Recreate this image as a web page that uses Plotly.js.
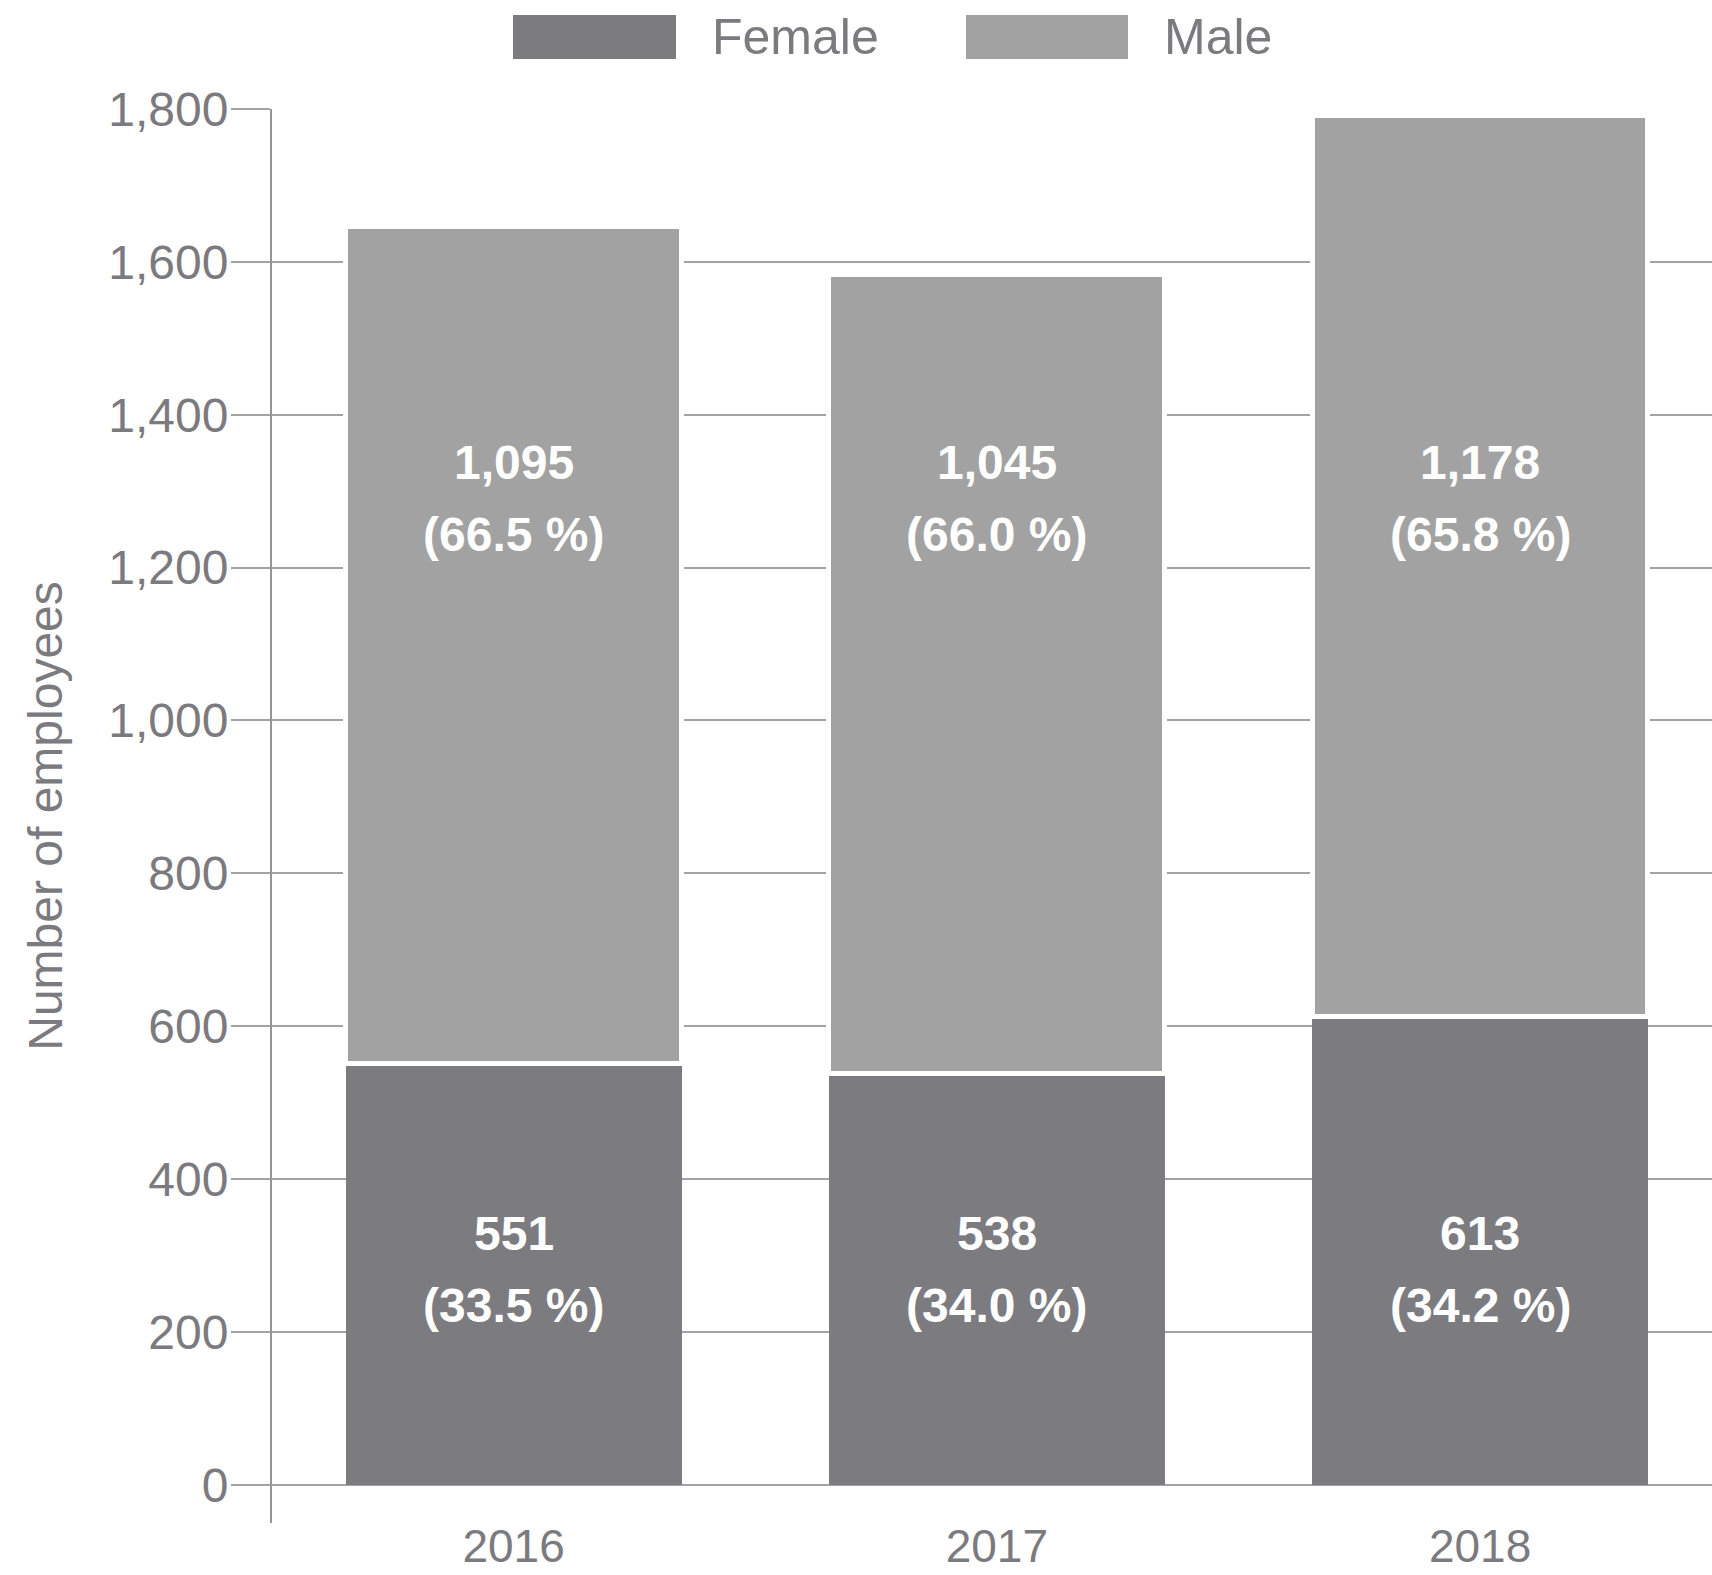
<!DOCTYPE html>
<html>
<head>
<meta charset="utf-8">
<script src="https://cdn.plot.ly/plotly-3.0.1.min.js"></script>
<style>html,body{margin:0;padding:0;background:#fff;}#chart{width:1712px;height:1575px;}</style>
</head>
<body>
<div id="chart"></div>
<script>
// ---- data ----
const years = ['2016', '2017', '2018'];
const female = [551, 538, 613];
const male = [1095, 1045, 1178];
const seriesNames = ['Female', 'Male'];
const yTickVals = [0, 200, 400, 600, 800, 1000, 1200, 1400, 1600, 1800];
const yTitle = 'Number of employees';

// ---- styles ----
const FONT = 'Liberation Sans, Arial, sans-serif';
const TXT = '#7b7a7f';
const FEMALE_C = '#7c7b80';
const MALE_C = '#a2a2a2';
const GRID_C = '#a3a3a3';

const W = 1712, H = 1575;
const M = {l: 272, r: 0, t: 109, b: 52};
const pw = W - M.l - M.r, ph = H - M.t - M.b;
const px2x = p => (p - M.l) / pw;
const py2y = p => (H - M.b - p) / ph;

const traces = [
  {type: 'bar', name: seriesNames[0], x: years, y: female,
   marker: {color: FEMALE_C, line: {width: 0}}, hoverinfo: 'skip'},
  {type: 'bar', name: seriesNames[1], x: years, y: male,
   marker: {color: MALE_C, line: {width: 5, color: '#ffffff'}}, hoverinfo: 'skip'}
];

const fmt = v => v.toLocaleString('en-US');
const pct = (a, b) => '(' + (a / (a + b) * 100).toFixed(1) + ' %)';

const annotations = [];
const lblFont = {family: FONT, size: 48, color: '#ffffff'};
years.forEach((yr, i) => {
  const rows = [
    [fmt(male[i]), 1337],
    [pct(male[i], female[i]), 1243],
    [fmt(female[i]), 329],
    [pct(female[i], male[i]), 235]
  ];
  rows.forEach(([t, yv]) => annotations.push({
    x: i, y: yv, xref: 'x', yref: 'y', text: '<b>' + t + '</b>', showarrow: false,
    xanchor: 'center', yanchor: 'middle', font: lblFont
  }));
});

// legend drawn manually (wide swatches)
const shapes = [];
const legendItems = [
  {name: seriesNames[0], color: FEMALE_C, sx0: 513, sx1: 676, tx: 710},
  {name: seriesNames[1], color: MALE_C, sx0: 966, sx1: 1128, tx: 1162}
];
legendItems.forEach(it => {
  shapes.push({type: 'rect', xref: 'paper', yref: 'paper',
    x0: px2x(it.sx0), x1: px2x(it.sx1), y0: py2y(59), y1: py2y(15),
    fillcolor: it.color, line: {width: 0}, layer: 'above'});
  annotations.push({xref: 'paper', yref: 'paper', x: px2x(it.tx), y: py2y(37),
    xanchor: 'left', yanchor: 'middle', showarrow: false, text: it.name,
    font: {family: FONT, size: 50, color: TXT}});
});

const layout = {
  width: W, height: H,
  margin: M,
  paper_bgcolor: '#ffffff', plot_bgcolor: '#ffffff',
  barmode: 'stack', bargap: 0.305,
  showlegend: false,
  font: {family: FONT, color: TXT, size: 46},
  xaxis: {
    type: 'category', range: [-0.5, 2.48],
    showgrid: false, zeroline: false, showline: false, ticks: '',
    ticklabelstandoff: -8,
    tickfont: {family: FONT, size: 46, color: TXT}
  },
  yaxis: {
    range: [-50, 1800], tickvals: yTickVals, tickformat: ',d',
    showgrid: true, gridcolor: GRID_C, gridwidth: 2,
    zeroline: true, zerolinecolor: GRID_C, zerolinewidth: 2,
    showline: true, linecolor: '#959595', linewidth: 2,
    ticks: 'outside', ticklen: 39, tickwidth: 2, tickcolor: GRID_C,
    ticklabelstandoff: -7,
    tickfont: {family: FONT, size: 48, color: TXT},
    title: {text: yTitle, font: {family: FONT, size: 48, color: TXT}, standoff: 30}
  },
  annotations: annotations,
  shapes: shapes
};

Plotly.newPlot('chart', traces, layout, {staticPlot: true, displayModeBar: false});
</script>
</body>
</html>
